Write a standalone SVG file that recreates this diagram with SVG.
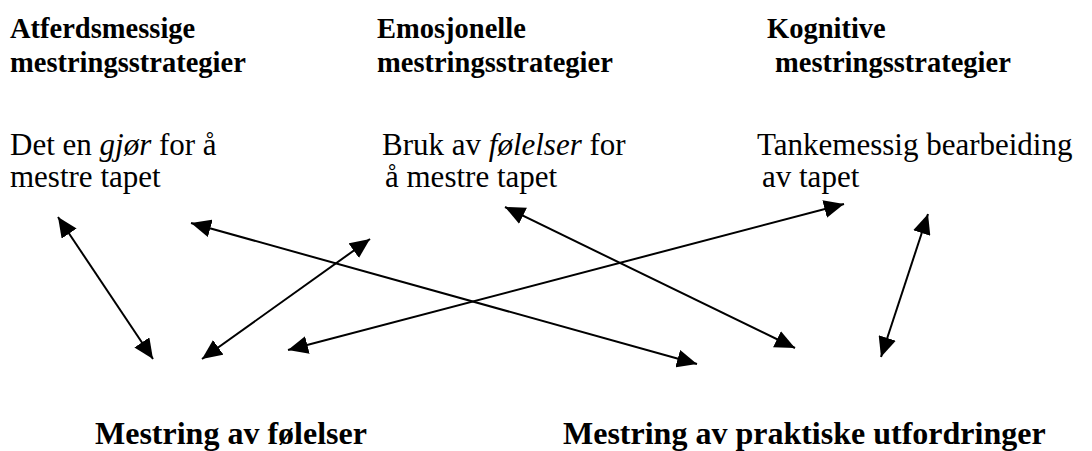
<svg xmlns="http://www.w3.org/2000/svg" width="1092" height="451" viewBox="0 0 1092 451" font-family="Liberation Serif, Times New Roman, serif">
<style>
text{font-family:"Liberation Serif","Times New Roman",serif;fill:#000}
.h{font-size:28.5px;font-weight:bold}
.m{font-size:32px;font-weight:bold}
.b{font-size:31px}
.i{font-style:italic}
.c{stroke:#000;stroke-width:2;fill:none;marker-start:url(#ah);marker-end:url(#ah)}
</style>
<defs>
<marker id="ah" markerUnits="userSpaceOnUse" markerWidth="20" markerHeight="18" refX="20" refY="9" orient="auto-start-reverse" viewBox="0 0 20 18">
<path d="M0,0 L20,9 L0,18 z" fill="#000"/>
</marker>
</defs>
<rect width="1092" height="451" fill="#fff"/>
<g id="atferd">
<text class="h" x="10" y="38">Atferdsmessige</text>
<text class="h" x="10" y="72">mestringsstrategier</text>
<text class="b" x="10" y="155">Det en <tspan class="i">gjør</tspan> for å</text>
<text class="b" x="10" y="187">mestre tapet</text>
</g>
<g id="emosjonelle">
<text class="h" x="377" y="38">Emosjonelle</text>
<text class="h" x="377" y="72">mestringsstrategier</text>
<text class="b" x="382" y="155">Bruk av <tspan class="i">følelser</tspan> for</text>
<text class="b" x="385" y="187">å mestre tapet</text>
</g>
<g id="kognitive">
<text class="h" x="767" y="38">Kognitive</text>
<text class="h" x="775" y="72">mestringsstrategier</text>
<text class="b" x="757" y="155">Tankemessig bearbeiding</text>
<text class="b" x="762" y="187">av tapet</text>
</g>
<g id="folelser">
<text class="m" x="95" y="444">Mestring av følelser</text>
</g>
<g id="praktiske">
<text class="m" x="563" y="444">Mestring av praktiske utfordringer</text>
</g>
<g id="connectors">
<line class="c" x1="58" y1="217" x2="153" y2="359"/>
<line class="c" x1="191" y1="223" x2="697" y2="364"/>
<line class="c" x1="202" y1="359" x2="370" y2="239"/>
<line class="c" x1="288" y1="350" x2="844" y2="204"/>
<line class="c" x1="505" y1="207" x2="795" y2="348"/>
<line class="c" x1="881" y1="357" x2="928" y2="214"/>
</g>
</svg>
